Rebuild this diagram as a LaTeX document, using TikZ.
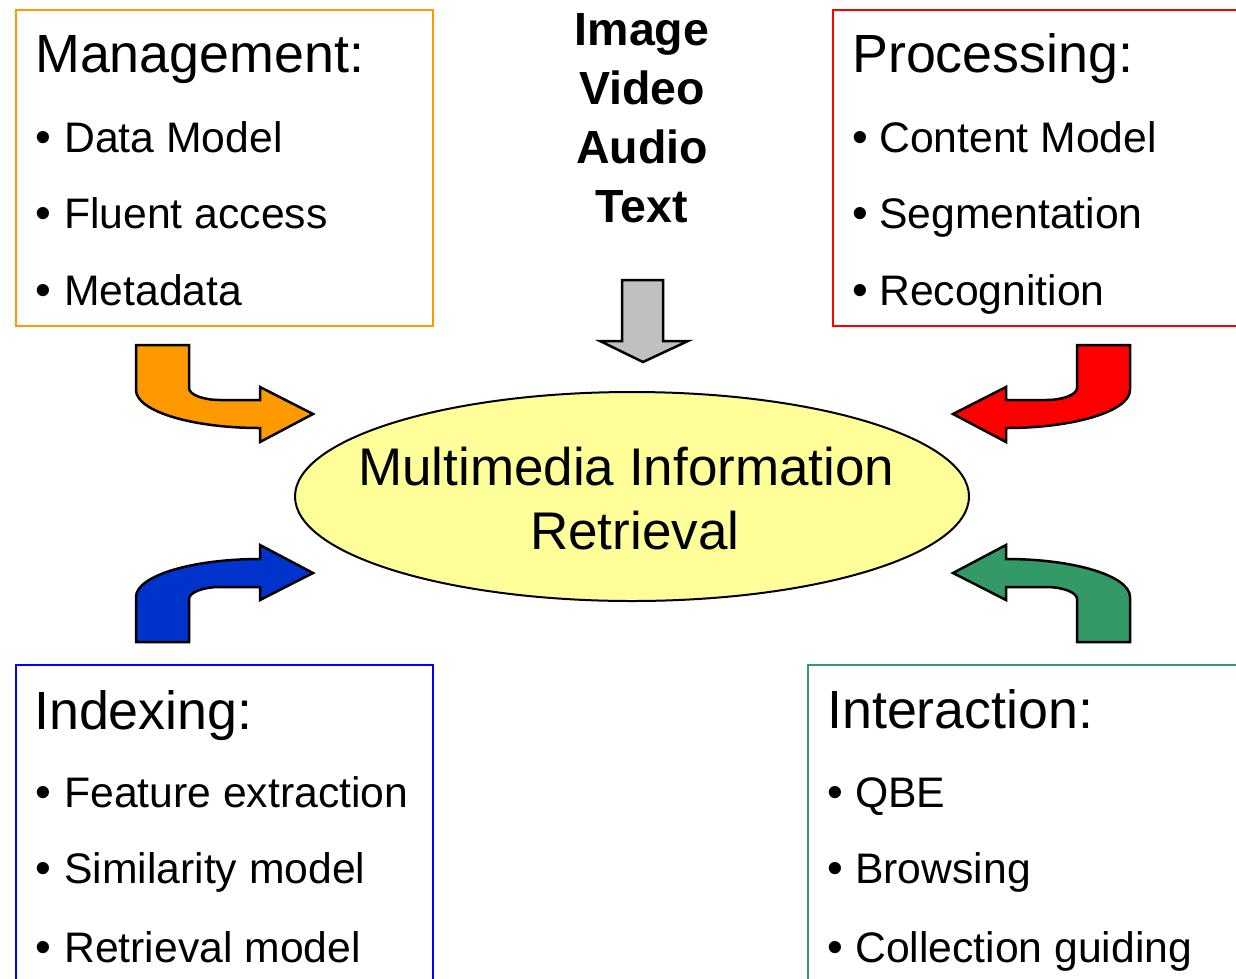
\documentclass[tikz,border=0pt]{standalone}
\usepackage{fontspec}
\setmainfont{Liberation Sans}
\usetikzlibrary{shapes.geometric}

\definecolor{mgmtcol}{HTML}{FF9900}
\definecolor{proccol}{HTML}{FF0000}
\definecolor{idxarrow}{HTML}{0033CC}
\definecolor{idxframe}{HTML}{0000FF}
\definecolor{intercol}{HTML}{339966}
\definecolor{corecol}{HTML}{FFFF99}
\definecolor{mediacol}{HTML}{C0C0C0}

\tikzset{
  framebox/.style={line width=2pt},
  heading/.style={anchor=base west, inner sep=0pt, font=\fontsize{53.8}{60}\selectfont},
  itemtext/.style={anchor=base west, inner sep=0pt, font=\fontsize{42.7}{48}\selectfont},
  bullettext/.style={anchor=base west, inner sep=0pt, font=\fontsize{45}{48}\selectfont},
  mediatext/.style={anchor=base, inner sep=0pt, font=\bfseries\fontsize{46.5}{50}\selectfont},
  coretext/.style={anchor=base west, inner sep=0pt, font=\fontsize{53}{60}\selectfont},
  bentarrow/.style={draw=black, line width=2.5pt, line join=miter},
}

% bent arrow pointing right, drawn in the upper-left position
\newcommand\bentarrowshape[1]{%
  \draw[bentarrow, fill=#1]
    (136,345) -- (189,345) -- (189,388)
    .. controls (189,394.6) and (203,400) .. (220,400)
    -- (260,400) -- (260,387) -- (313,414) -- (260,442) -- (260,428)
    .. controls (191.5,428) and (136,411) .. (136,390) -- cycle;}

\begin{document}
\begin{tikzpicture}[x=1pt, y=-1pt]
  \useasboundingbox (0,0) rectangle (1236,978);
  \clip (0,0) rectangle (1236,978);

  % frames
  \draw[framebox, draw=mgmtcol]  (16,10)  rectangle (433,326);
  \draw[framebox, draw=proccol]  (833,10) rectangle (1260,326);
  \draw[framebox, draw=idxframe] (16,665) rectangle (433,1000);
  \draw[framebox, draw=intercol] (808,665) rectangle (1260,1000);

  % Management
  \node[heading] (mgmt) at (35,72) {Management:};
  \node[bullettext] (mgmtb1) at (35,152) {•};
  \node[itemtext]   (mgmt1)  at (64,152) {Data Model};
  \node[bullettext] (mgmtb2) at (35,228) {•};
  \node[itemtext]   (mgmt2)  at (64,228) {Fluent access};
  \node[bullettext] (mgmtb3) at (35,305) {•};
  \node[itemtext]   (mgmt3)  at (64,305) {Metadata};

  % Processing
  \node[heading] (proc) at (852,72) {Processing:};
  \node[bullettext] (procb1) at (852,152) {•};
  \node[itemtext]   (proc1)  at (879,152) {Content Model};
  \node[bullettext] (procb2) at (852,228) {•};
  \node[itemtext]   (proc2)  at (879,228) {Segmentation};
  \node[bullettext] (procb3) at (852,305) {•};
  \node[itemtext]   (proc3)  at (879,305) {Recognition};

  % Indexing
  \node[heading] (idx) at (34,729) {Indexing:};
  \node[bullettext] (idxb1) at (35,807) {•};
  \node[itemtext]   (idx1)  at (64,807) {Feature extraction};
  \node[bullettext] (idxb2) at (35,883) {•};
  \node[itemtext]   (idx2)  at (64,883) {Similarity model};
  \node[bullettext] (idxb3) at (35,962) {•};
  \node[itemtext]   (idx3)  at (64,962) {Retrieval model};

  % Interaction
  \node[heading] (inter) at (827,728) {Interaction:};
  \node[bullettext] (interb1) at (827,807) {•};
  \node[itemtext]   (inter1)  at (855,807) {QBE};
  \node[bullettext] (interb2) at (827,883) {•};
  \node[itemtext]   (inter2)  at (855,883) {Browsing};
  \node[bullettext] (interb3) at (827,962) {•};
  \node[itemtext]   (inter3)  at (855,962) {Collection guiding};

  % media types
  \node[mediatext] (image) at (642,45)  {Image};
  \node[mediatext] (video) at (642,104) {Video};
  \node[mediatext] (audio) at (642,163) {Audio};
  \node[mediatext] (text)  at (642,222) {Text};

  % down arrow from media types
  \draw[bentarrow, fill=mediacol]
    (622,280) -- (663,280) -- (663,341) -- (688,341) -- (643,362)
    -- (600,341) -- (622,341) -- cycle;

  % central ellipse
  \node[ellipse, draw=black, line width=2pt, fill=corecol,
        minimum width=674pt, minimum height=209pt, inner sep=0pt]
        (mir) at (632,496.5) {};
  \node[coretext] (mir1) at (358,485) {Multimedia Information};
  \node[coretext] (mir2) at (530,549) {Retrieval};

  % bent arrows into the ellipse
  \bentarrowshape{mgmtcol}
  \begin{scope}[xshift=1266pt, xscale=-1]
    \bentarrowshape{proccol}
  \end{scope}
  \begin{scope}[yshift=-987pt, yscale=-1]
    \bentarrowshape{idxarrow}
  \end{scope}
  \begin{scope}[xshift=1266pt, yshift=-987pt, xscale=-1, yscale=-1]
    \bentarrowshape{intercol}
  \end{scope}
\end{tikzpicture}
\end{document}
